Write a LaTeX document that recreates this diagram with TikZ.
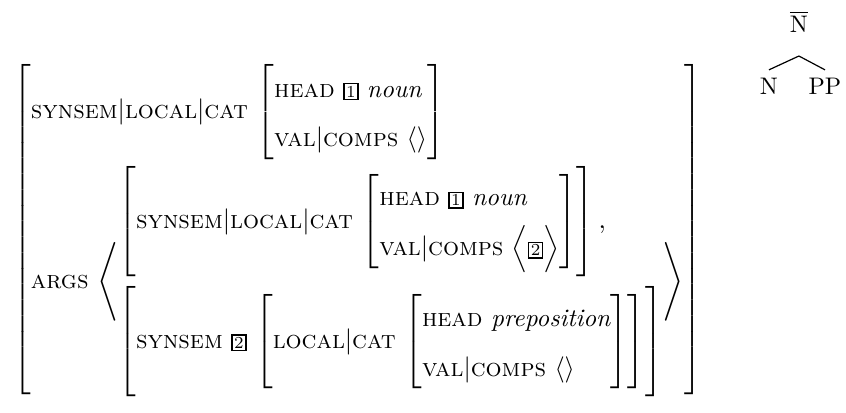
\documentclass[tikz,border=0pt]{standalone}
\usepackage{amsmath}
\usetikzlibrary{positioning}

% feature names, coindexing tags and feature matrices
\newcommand\feat[1]{\textsc{#1}}
\newcommand\boxtag[1]{{\setlength\fboxsep{0.6pt}\setlength\fboxrule{0.6pt}\fbox{\scriptsize #1}}}
\newcommand\brk[1]{\rule[\dimexpr 2.5pt-#1/2\relax]{0pt}{#1}}
\newcommand\feats[2]{\left[{\renewcommand\arraystretch{1.65}\begin{array}{@{}l@{}}#1\\#2\end{array}}\right]}

\tikzset{
  cat/.style={inner sep=3.33pt},
  branch/.style={line width=0.5pt},
  avm/.style={inner sep=0pt,anchor=west,font=\fontsize{10.5}{12.6}\selectfont},
}

\begin{document}
\begin{tikzpicture}
  \useasboundingbox (0,0) rectangle (12.4,6.039);

  % the feature structure
  \node[avm] (fs) at (0.19,2.675) {$\left[\begin{array}{@{}l@{}}
    \feat{synsem}|\feat{local}|\feat{cat}\,\feats{\feat{head}\ \boxtag{1}\ \textit{noun}}{\feat{val}|\feat{comps}\ \langle\rangle}\\
    \noalign{\vskip2pt}
    \feat{args}\,\left\langle\begin{array}{@{}l@{}}
      \left[\brk{44pt}\feat{synsem}|\feat{local}|\feat{cat}\,\feats{\feat{head}\ \boxtag{1}\ \textit{noun}}{\feat{val}|\feat{comps}\ \Bigl\langle\boxtag{2}\Bigr\rangle}\right],\\
      \noalign{\vskip4pt}
      \left[\brk{44pt}\feat{synsem}\ \boxtag{2}\,\left[\brk{40pt}\feat{local}|\feat{cat}\,\feats{\feat{head}\ \textit{preposition}}{\feat{val}|\feat{comps}\ \langle\rangle}\right]\right]
    \end{array}\right\rangle
  \end{array}\right]$};

  % the little tree
  \node[cat] (nbar) at (11.71,5.717) {$\overline{\mathrm{N}}$};
  \node[cat] (n)    at (11.271,4.771) {N};
  \node[cat] (pp)   at (12.092,4.771) {PP};
  \coordinate[below=0.22cm of nbar] (apex);
  \draw[branch] (apex) -- (n.north);
  \draw[branch] (apex) -- (pp.north);
\end{tikzpicture}
\end{document}
